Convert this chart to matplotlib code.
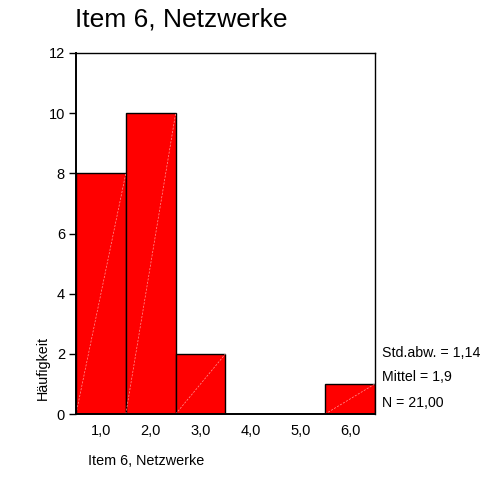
import matplotlib.pyplot as plt

plt.rcParams['font.family'] = ['Liberation Sans', 'DejaVu Sans']

# data
werte = [1, 2, 3, 4, 5, 6]
haeufigkeit = [8, 10, 2, 0, 0, 1]
tick_labels = ["1,0", "2,0", "3,0", "4,0", "5,0", "6,0"]
statistik = ["Std.abw. = 1,14", "Mittel = 1,9", "N = 21,00"]

fig = plt.figure(figsize=(4.85, 4.83), dpi=100)
ax = fig.add_axes([76 / 485, 1 - 414 / 483, 299 / 485, 361 / 483])

bars = ax.bar(werte, haeufigkeit, width=1.0, color="#ff0000", edgecolor="black", linewidth=1.0)
for b, h in zip(bars, haeufigkeit):
    if h > 0:
        x0 = b.get_x()
        ax.plot([x0, x0 + b.get_width()], [0, h], color="#ff9999", lw=0.5, ls=(0, (3, 2)))

ax.set_xlim(0.5, 6.5)
ax.set_ylim(0, 12)
ax.set_yticks(range(0, 13, 2))
ax.set_xticks(werte)
ax.set_xticklabels(tick_labels)
ax.tick_params(axis="x", length=0, pad=7, labelsize=10.5)
ax.tick_params(axis="y", length=5, width=1, labelsize=10.5, pad=3)
for s in ax.spines.values():
    s.set_linewidth(1.0)
ax.spines["left"].set_linewidth(1.4)
ax.spines["bottom"].set_linewidth(1.4)

fig.text(75 / 485, 1 - 20 / 483, "Item 6, Netzwerke", fontsize=19, va="center", ha="left")
fig.text(88 / 485, 1 - 461 / 483, "Item 6, Netzwerke", fontsize=10.4, va="center", ha="left")
fig.text(43 / 485, 1 - 368 / 483, "Häufigkeit", fontsize=10.4, rotation=90, va="center", ha="center")

ys = [353, 377, 403]
for t, y in zip(statistik, ys):
    fig.text(382 / 485, 1 - y / 483, t, fontsize=10.2, va="center", ha="left")

fig.savefig("out.png", dpi=100)
